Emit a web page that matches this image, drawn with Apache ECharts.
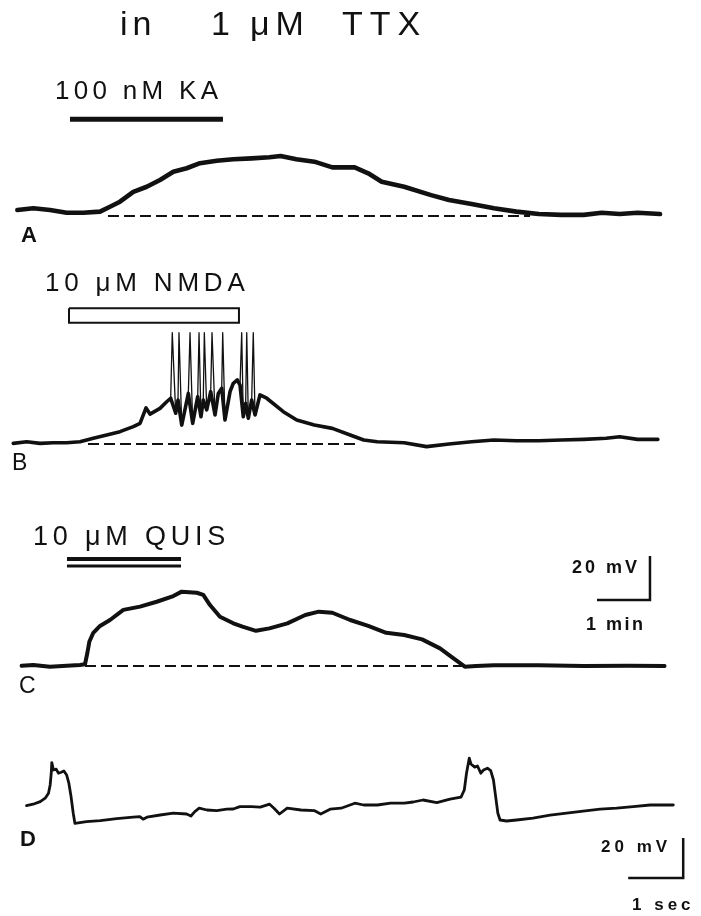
<!DOCTYPE html>
<html><head><meta charset="utf-8">
<script src="https://cdn.jsdelivr.net/npm/echarts@6/dist/echarts.min.js"></script>
<style>html,body{margin:0;padding:0;background:#fff}#c{width:701px;height:916px}</style>
</head><body><div id="c"></div>
<script>
// ---------------- DATA (time in s, membrane potential in mV rel. to rest) ----------------
// A: 100 nM kainate
const traceA = [[8.3,2.7],[26.4,3.5],[45.3,2.7],[64.2,1.5],[83.0,1.5],[101.9,2.0],[113.2,4.2],[124.5,6.5],[139.6,11.0],[154.8,13.3],[169.8,16.4],[184.9,20.1],[200.0,21.7],[215.1,24.0],[234.0,25.1],[252.8,25.8],[273.4,26.2],[293.7,26.7],[306.3,27.3],[324.2,25.8],[344.5,24.7],[364.9,22.1],[390.2,22.1],[405.5,19.4],[420.8,15.6],[446.2,13.3],[476.7,9.5],[497.0,7.3],[522.5,5.5],[547.9,3.5],[573.3,2.0],[598.6,0.9],[624.1,0.5],[649.5,0.5],[669.9,1.5],[690.2,0.9],[710.5,1.5],[735.9,0.9]];
const restA = [110.9, 588.7];
const appA = [67.9, 241.1];
// B: 10 uM NMDA
const traceB = [[3.7,0.3],[18.9,1.0],[34.0,0.3],[49.0,0.6],[64.2,0.6],[79.2,1.0],[94.3,2.6],[109.5,4.1],[124.5,5.6],[139.6,7.9],[147.2,9.4],[154.0,16.4],[158.5,13.6],[169.8,16.2],[177.4,19.2],[181.9,20.8],
 [183.7,50.6],[187.6,14.0],[190.2,20.0],[191.3,50.6],[194.4,8.6],[201.9,23.0],[203.8,50.6],[206.8,9.4],[212.5,21.5],[214.0,50.6],[216.2,12.4],[218.8,20.0],[220.0,50.6],[222.7,15.5],[227.2,23.8],[228.7,50.6],[232.1,13.2],[235.8,23.0],[239.7,25.3],[240.8,50.6],[243.4,10.9],[249.1,23.8],[252.8,27.6],[257.3,29.1],[260.4,26.8],[262.3,50.6],[264.1,12.4],[266.8,18.5],[268.0,50.6],[269.8,11.7],[273.6,20.0],[275.4,50.6],[277.4,13.2],
 [283.0,22.3],[290.6,20.8],[309.4,14.7],[324.6,10.9],[344.5,8.6],[364.9,7.1],[385.1,4.1],[400.4,1.8],[415.7,1.0],[446.2,0.6],[471.6,-1.2],[497.0,0],[522.5,1.0],[547.9,1.8],[573.3,1.5],[598.6,1.5],[624.1,1.8],[649.5,2.1],[674.9,2.6],[690.2,3.3],[710.5,2.1],[733.4,2.1]];
const restB = [88.3, 390.6];
const appB = [66.8, 259.2];
// C: 10 uM quisqualate
const traceC = [[13.2,0.1],[26.4,0.5],[45.3,-0.3],[64.2,0.1],[79.2,0.5],[84.9,0.8],[87.5,5.8],[89.8,11.0],[94.3,15.1],[101.9,18.2],[113.2,20.9],[128.3,25.5],[147.2,27.0],[166.1,29.2],[184.9,31.8],[194.4,33.8],[211.4,33.3],[218.8,32.3],[226.4,27.7],[237.7,22.4],[252.8,19.4],[263.2,17.9],[278.5,16.0],[293.7,17.1],[314.0,19.4],[334.3,23.2],[349.6,24.7],[364.9,24.2],[385.1,20.9],[405.5,18.2],[425.9,15.1],[446.2,14.1],[466.5,12.1],[486.8,8.0],[502.1,3.5],[514.9,-0.3],[527.6,0],[547.9,0.3],[598.6,0.3],[649.5,0],[700.3,0.1],[741.0,0]];
const restC = [84.9, 511.7];
const appC = [64.5, 193.6];
// D: fast time base
const traceD = [[0.30,8.2],[0.42,8.9],[0.55,10.2],[0.64,11.9],[0.70,14.4],[0.73,18.5],[0.75,24.4],[0.76,29.7],[0.79,26.0],[0.84,26.4],[0.88,24.4],[0.93,24.9],[0.98,25.5],[1.03,23.5],[1.07,19.4],[1.11,12.7],[1.15,4.4],[1.18,-0.7],[1.39,0.2],[1.64,0.7],[1.94,1.7],[2.24,2.4],[2.36,2.7],[2.42,1.4],[2.49,2.4],[2.73,3.5],[2.97,4.4],[3.21,4.0],[3.29,3.0],[3.32,2.2],[3.36,5.2],[3.44,6.9],[3.58,6.0],[3.76,5.7],[3.94,6.4],[4.06,6.5],[4.18,7.7],[4.39,7.7],[4.55,7.4],[4.72,8.9],[4.80,6.9],[4.90,4.0],[5.04,6.9],[5.29,6.0],[5.53,5.7],[5.65,4.0],[5.82,6.4],[6.02,6.9],[6.27,9.4],[6.43,8.5],[6.68,8.5],[6.92,9.4],[7.17,9.4],[7.33,10.0],[7.51,11.0],[7.76,9.7],[8.00,11.4],[8.20,12.4],[8.26,16.0],[8.30,24.4],[8.35,31.9],[8.38,29.0],[8.45,27.4],[8.50,28.0],[8.56,24.4],[8.61,26.0],[8.68,26.9],[8.74,25.7],[8.79,21.0],[8.83,12.7],[8.87,4.4],[8.91,1.0],[9.03,0.5],[9.21,1.0],[9.51,1.9],[9.82,3.4],[10.12,4.4],[10.42,5.4],[10.73,6.4],[11.03,6.9],[11.33,7.7],[11.64,8.5],[11.94,8.5],[12.06,8.5]];
// scale bars: [t, v, dt (s), dv (mV)]
const scaleC = [664.5, 30, 60, 20];
const scaleD = [11.24, -28, 1, 20];
// texts
const titleWords = ['in', '1', 'μM', 'TTX'];
const drugLabels = ['100 nM KA', '10 μM NMDA', '10 μM QUIS'];
const panelLabels = ['A', 'B', 'C', 'D'];
const scaleLabels = ['20 mV', '1 min', '20 mV', '1 sec'];

// ---------------- LAYOUT / STYLE ----------------
const INK = '#111';
const FONT = '"Liberation Sans", Arial, Helvetica, sans-serif';
const slowPxPerS = 53 / 60, slowPxPerMv = 2.2, slowTMax = 750;
const fastPxPerS = 55, fastPxPerMv = 2.0, fastTMax = 12.4;
const panels = [
  {base: 216, min: -6, max: 50, pps: slowPxPerS, ppm: slowPxPerMv, tmax: slowTMax},
  {base: 444, min: -6, max: 64, pps: slowPxPerS, ppm: slowPxPerMv, tmax: slowTMax},
  {base: 666, min: -6, max: 52, pps: slowPxPerS, ppm: slowPxPerMv, tmax: slowTMax},
  {base: 822, min: -30, max: 35, pps: fastPxPerS, ppm: fastPxPerMv, tmax: fastTMax}
];
const grid = panels.map(p => ({left: 10, top: p.base - p.max * p.ppm, width: p.tmax * p.pps, height: (p.max - p.min) * p.ppm}));
const xAxis = panels.map((p, i) => ({type: 'value', gridIndex: i, min: 0, max: p.tmax, show: false}));
const yAxis = panels.map((p, i) => ({type: 'value', gridIndex: i, min: p.min, max: p.max, show: false}));

function line(i, data, width, extra) {
  return Object.assign({
    type: 'line', xAxisIndex: i, yAxisIndex: i, data: data, symbol: 'none', silent: true,
    animation: false, clip: false,
    lineStyle: {color: INK, width: width, join: 'round', cap: 'round'}
  }, extra || {});
}
function dashed(i, range) {
  return line(i, [[range[0], 0], [range[1], 0]], 2, {lineStyle: {color: INK, width: 2, type: [11, 5], cap: 'butt'}});
}
function scaleBar(i, s) {
  return line(i, [[s[0], s[1]], [s[0] + s[2], s[1]], [s[0] + s[2], s[1] + s[3]]], 2.5, {lineStyle: {color: INK, width: 2.5, join: 'miter', cap: 'butt'}});
}
const KA_LEVEL = 44, NMDA_TOP = 61.7, NMDA_BOT = 55.1, QUIS_1 = 48.6, QUIS_2 = 45.5;

const series = [
  line(0, traceA, 4.6),
  dashed(0, restA),
  line(0, [[appA[0], KA_LEVEL], [appA[1], KA_LEVEL]], 5, {lineStyle: {color: INK, width: 5, cap: 'butt'}}),
  line(1, traceB.filter(p => p[1] < 45), 3.6),
  line(1, traceB, 1.3),
  dashed(1, restB),
  line(1, [[appB[0], NMDA_TOP], [appB[1], NMDA_TOP], [appB[1], NMDA_BOT], [appB[0], NMDA_BOT], [appB[0], NMDA_TOP]], 2, {lineStyle: {color: INK, width: 2, join: 'miter'}}),
  line(2, traceC, 4),
  dashed(2, restC),
  line(2, [[appC[0], QUIS_1], [appC[1], QUIS_1]], 4, {lineStyle: {color: INK, width: 4, cap: 'butt'}}),
  line(2, [[appC[0], QUIS_2], [appC[1], QUIS_2]], 3, {lineStyle: {color: INK, width: 3, cap: 'butt'}}),
  scaleBar(2, scaleC),
  line(3, traceD, 2.8),
  scaleBar(3, scaleD)
];

// ---------------- TEXT (letter-spaced) ----------------
const mctx = document.createElement('canvas').getContext('2d');
function spaced(str, x, y, size, weight, sp) {
  const font = weight + ' ' + size + 'px ' + FONT;
  mctx.font = font;
  const out = [];
  let cx = x;
  for (const ch of str) {
    out.push({type: 'text', x: cx, y: y, silent: true,
      style: {text: ch, font: font, fill: INK, textAlign: 'left', align: 'left', textVerticalAlign: 'middle', verticalAlign: 'middle'}});
    cx += mctx.measureText(ch).width + sp;
  }
  return out;
}
const textSpecs = [
  [titleWords[0], 120, 26, 34, 'normal', 5],
  [titleWords[1], 211, 26, 34, 'normal', 5],
  [titleWords[2], 250, 26, 34, 'normal', 6],
  [titleWords[3], 342, 26, 34, 'normal', 7],
  [drugLabels[0], 55, 92, 26, 'normal', 4.3],
  [drugLabels[1], 45, 284, 26, 'normal', 4.8],
  [drugLabels[2], 33, 537.5, 27, 'normal', 4.8],
  [panelLabels[0], 21, 236, 22, 'bold', 0],
  [panelLabels[1], 12, 464, 23, 'normal', 0],
  [panelLabels[2], 19, 687, 23, 'normal', 0],
  [panelLabels[3], 20, 840, 22, 'bold', 0],
  [scaleLabels[0], 572, 568.5, 18, 'bold', 3],
  [scaleLabels[1], 586, 625, 18, 'bold', 2.5],
  [scaleLabels[2], 601, 847.5, 17, 'bold', 4],
  [scaleLabels[3], 632, 905, 17, 'bold', 4]
];
let graphic = [];
textSpecs.forEach(s => { graphic = graphic.concat(spaced.apply(null, s)); });

const chart = echarts.init(document.getElementById('c'), null, {renderer: 'canvas'});
chart.setOption({backgroundColor: '#fff', animation: false, grid, xAxis, yAxis, series, graphic});
</script></body></html>
